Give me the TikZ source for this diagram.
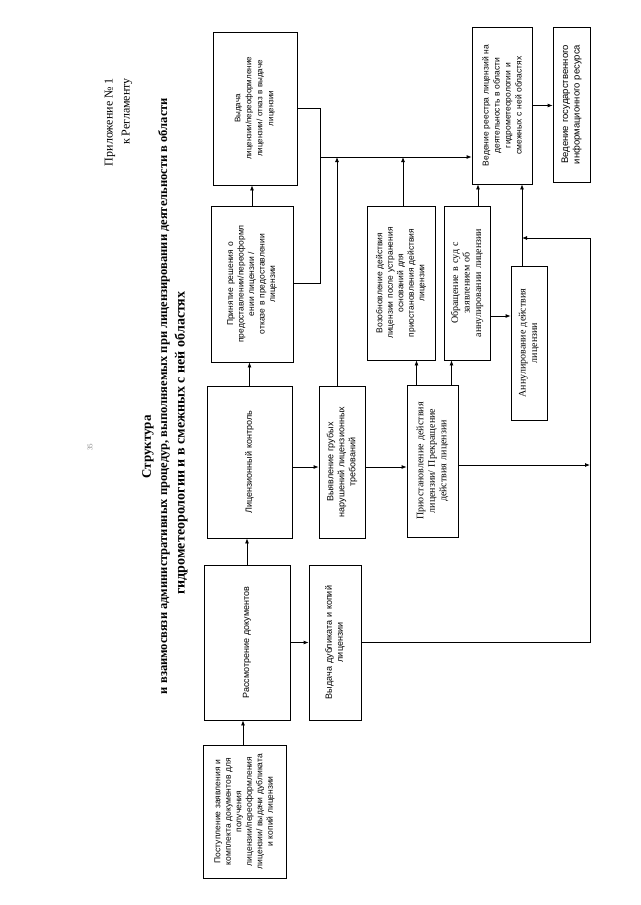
\documentclass[tikz,border=0pt]{standalone}
\usepackage{fontspec}
\setmainfont{Liberation Serif}
\newfontfamily\boxfont{Liberation Sans}
\usetikzlibrary{arrows.meta,positioning,calc}

\begin{document}
\begin{tikzpicture}[x=1pt,y=-1pt,
  blok/.style={rectangle,draw,line width=0.8pt,rotate=90,align=center,inner sep=2pt,font=\boxfont\fontsize{8.5}{10.5}\selectfont},
  serifblok/.style={blok,font=\fontsize{10}{11.5}\selectfont},
  titul/.style={rotate=90,inner sep=0pt,font=\bfseries\fontsize{12.5}{14}\selectfont},
  arrow/.style={-{Latex[length=5pt,width=4pt]},line width=0.8pt},
  link/.style={line width=0.8pt},
]
\fill[white] (0,0) rectangle (640,905);
\useasboundingbox (0,0) rectangle (640,905);

% heading
\node[titul,anchor=east,font=\fontsize{12}{14}\selectfont] (pril) at (110,78) {Приложение № 1};
\node[titul,anchor=east,font=\fontsize{12}{14}\selectfont] (regl) at (127,78) {к Регламенту};
\node[titul,text=gray,font=\fontsize{7}{8}\selectfont] (pagenum) at (90,447) {35};
\node[titul,font=\bfseries\fontsize{13}{15}\selectfont] (struct) at (148,447) {Структура};
\node[titul] (head1) at (164,396) {и взаимосвязи административных процедур, выполняемых при лицензировании деятельности в области};
\node[titul,font=\bfseries\fontsize{14}{16}\selectfont] (head2) at (181,443) {гидрометеорологии и в смежных с ней областях};

% boxes (rotated: width is along the page height)
\node[blok,minimum width=133,minimum height=83,text width=127] (postup) at (244.5,811.5) {Поступление заявления и\\комплекта документов для\\получения\\лицензии/переоформления\\лицензии/ выдачи дубликата\\и копий лицензии};
\node[blok,minimum width=155,minimum height=86,text width=149,font=\boxfont\fontsize{9}{11}\selectfont] (rassm) at (247,642.5) {Рассмотрение документов};
\node[blok,minimum width=155,minimum height=52,text width=149,font=\boxfont\fontsize{9}{11}\selectfont] (dubl) at (335,642.5) {Выдача дубликата и копий\\лицензии};
\node[blok,minimum width=152,minimum height=85,text width=146,font=\boxfont\fontsize{9}{11}\selectfont] (kontrol) at (249.5,462) {Лицензионный контроль};
\node[blok,minimum width=152,minimum height=46,text width=146,font=\boxfont\fontsize{9}{11}\selectfont] (narush) at (342,462) {Выявление грубых\\нарушений лицензионных\\требований};
\node[blok,minimum width=156,minimum height=82,text width=150] (reshen) at (252,284) {Принятие решения о\\предоставлении/переоформл\\ении лицензии /\\отказе в предоставлении\\лицензии};
\node[blok,minimum width=153,minimum height=84,text width=147,font=\boxfont\fontsize{8}{11}\selectfont] (vydacha) at (255,108.5) {Выдача\\лицензии/переоформление\\лицензии/ отказ в выдаче\\лицензии};
\node[blok,minimum width=154,minimum height=68,text width=148] (vozobn) at (401,283) {Возобновление действия\\лицензии после устранения\\оснований для\\приостановления действия\\лицензии};
\node[serifblok,minimum width=152,minimum height=51,text width=146] (priost) at (432.5,461) {Приостановление действия\\лицензии/ Прекращение\\действия лицензии};
\node[serifblok,minimum width=154,minimum height=46,text width=148] (sud) at (467,283) {Обращение в суд с\\заявлением об\\аннулировании лицензии};
\node[serifblok,minimum width=154,minimum height=36,text width=148] (annul) at (529,343) {Аннулирование действия\\лицензии};
\node[blok,minimum width=157,minimum height=60,text width=151,font=\boxfont\fontsize{8.5}{11}\selectfont] (reestr) at (502,105.5) {Ведение реестра лицензий на\\деятельность в области\\гидрометеорологии и\\смежных с ней областях};
\node[blok,minimum width=155,minimum height=37,text width=149,font=\boxfont\fontsize{9.5}{11.5}\selectfont] (resurs) at (571.5,104.5) {Ведение государственного\\информационного ресурса};

% junctions
\coordinate (bus) at (320,157);
\coordinate (busbot) at (320,283);
\coordinate (rightbot) at (590,642);
\coordinate (rightmid) at (590,465);
\coordinate (righttop) at (590,238);
\coordinate (annulup) at (522,238);

% main chain
\draw[arrow] ([xshift=-1.5pt]postup.east) -- ([xshift=-1.5pt]postup.east |- rassm.west);
\draw[arrow] (rassm.east) -- (rassm.east |- kontrol.west);
\draw[arrow] (kontrol.east) -- (kontrol.east |- reshen.west);
\draw[arrow] (reshen.east) -- (reshen.east |- vydacha.west);
\draw[arrow] (rassm.south) -- (rassm.south -| dubl.north);
\draw[arrow] ([yshift=-5pt]kontrol.south) -- ([yshift=-5pt]kontrol.south -| narush.north);
\draw[arrow] ([yshift=-5pt]narush.south) -- ([yshift=-5pt]narush.south -| priost.north);

% to the register
\draw[link] (vydacha.south) -- (vydacha.south -| bus) -- (busbot) -- (busbot -| reshen.south);
\draw[arrow] (bus) -- (bus -| reestr.north);
\draw[arrow] ([xshift=-5pt]narush.east) -- ([xshift=-5pt]narush.east |- bus);
\draw[arrow] ([xshift=2pt]vozobn.east) -- ([xshift=2pt]vozobn.east |- bus);
\draw[arrow] ([xshift=-16pt]priost.east) -- ([xshift=-16pt]priost.east |- vozobn.west);
\draw[arrow] ([xshift=19pt]priost.east) -- ([xshift=19pt]priost.east |- sud.west);
\draw[arrow] ([xshift=11pt]sud.east) -- ([xshift=11pt]sud.east |- reestr.west);
\draw[arrow] ([yshift=-33pt]sud.south) -- ([yshift=-33pt]sud.south -| annul.north);
\draw[arrow] ([xshift=-7pt]annul.east) -- ([xshift=-7pt]annul.east |- reestr.west);
\draw[arrow] (reestr.south) -- (reestr.south -| resurs.north);

% right-hand return line
\draw[link] (dubl.south |- rightbot) -- (rightbot) -- (righttop);
\draw[arrow] (righttop) -- (annulup);
\draw[arrow] ([yshift=-4pt]priost.south) -- (rightmid);
\end{tikzpicture}
\end{document}
